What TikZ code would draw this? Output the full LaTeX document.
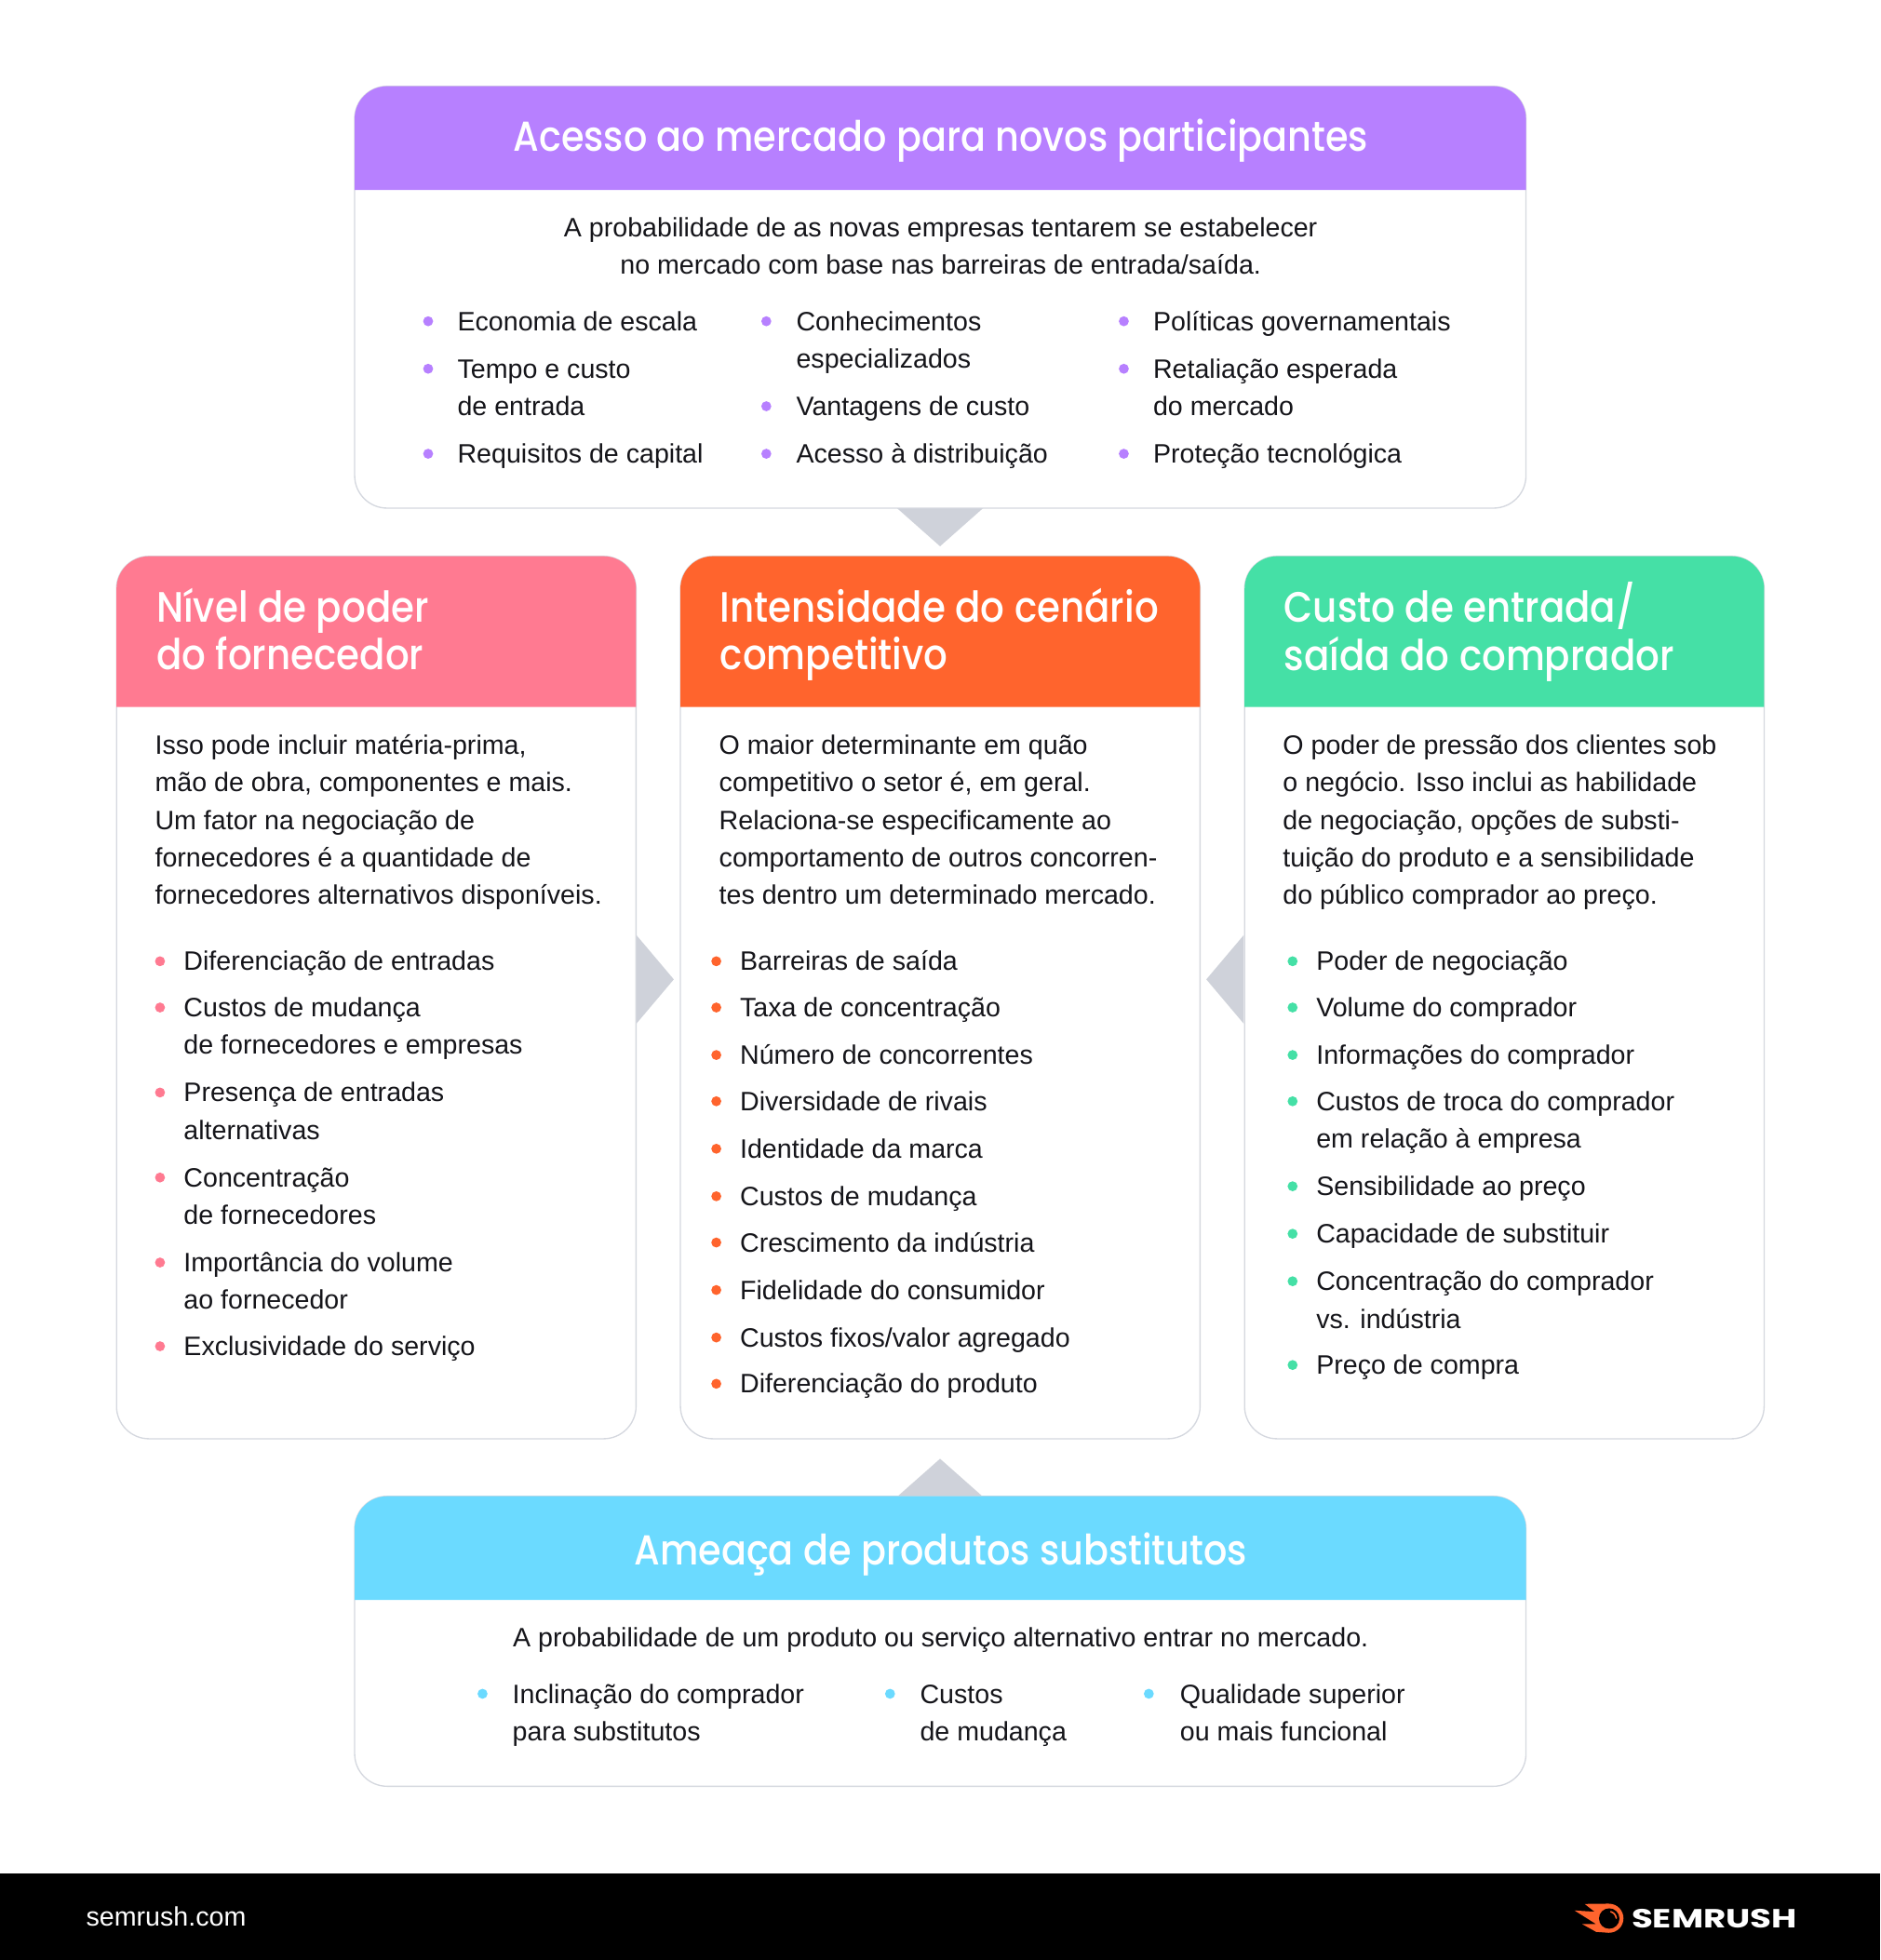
\documentclass[tikz,border=0pt]{standalone}
\usepackage{fontspec}
\setmainfont{Liberation Sans}
\newfontfamily\headfont[FakeStretch=0.884]{Poppins Medium}
\newfontfamily\logofont[FakeStretch=1.32]{Poppins}
\definecolor{cpurple}{HTML}{B780FF}
\definecolor{cpink}{HTML}{FF7A91}
\definecolor{corange}{HTML}{FF642D}
\definecolor{cgreen}{HTML}{45E0A6}
\definecolor{cblue}{HTML}{6BDAFF}
\definecolor{cline}{HTML}{D5D8DF}
\definecolor{ctri}{HTML}{CFD2DA}
\definecolor{cink}{HTML}{15151A}
\newcommand\lns[1]{\begin{tabular}[t]{@{}l@{}}#1\end{tabular}}
\newcommand\clns[1]{\begin{tabular}[t]{@{}c@{}}#1\end{tabular}}
\tikzset{
  x=1pt,y=-1pt,
  body/.style={anchor=base west,inner sep=0pt,outer sep=0pt,text=cink,font=\fontsize{21.3}{30}\selectfont},
  bodyc/.style={body,anchor=base},
  headc/.style={anchor=base,inner sep=0pt,text=white,font=\headfont\fontsize{33.5}{38}\selectfont},
  headl/.style={anchor=base west,inner sep=0pt,text=white,font=\headfont\fontsize{34}{38}\selectfont},
  cardline/.style={draw=cline,line width=1pt,fill=white},
  tri/.style={fill=ctri,draw=none},
  dot/.style={circle,inner sep=0pt,minimum size=8pt,fill=#1,draw=none},
}
% \card{name}{x0}{y0}{x1}{y1}{ymid}{colour}
\newcommand\card[7]{%
  \node[inner sep=0pt,minimum width=0pt] (#1) at ({(#2+#4)/2},{(#3+#5)/2}) {};
  \draw[cardline,rounded corners=26pt] (#2,#3) rectangle (#4,#5);
  \fill[#7] (#2,#6) -- (#2,#3+26) arc[start angle=180,end angle=90,radius=26pt] -- (#4-26,#3) arc[start angle=90,end angle=0,radius=26pt] -- (#4,#6) -- cycle;
}
% \itm{x of dot}{x of text}{y of first line}{colour}{text}
\newcounter{itmc}
\newcommand\itm[5]{%
  \stepcounter{itmc}%
  \node[dot=#4] (d\theitmc) at (#1,#3) {};
  \node[body] (i\theitmc) at (#2,#3+7.5) {\lns{#5}};
}
\begin{document}
\begin{tikzpicture}
\useasboundingbox (0,0) rectangle (1504,1568);
\fill[white] (0,0) rectangle (1504,1568);
% triangles
\fill[tri] (717,406) -- (787,406) -- (752,437) -- cycle;
\fill[tri] (509,748) -- (509,819) -- (539,783.5) -- cycle;
\fill[tri] (995,748) -- (995,819) -- (965,783.5) -- cycle;
\fill[tri] (717,1198) -- (787,1198) -- (752,1167) -- cycle;
% cards
\card{ctop}{283.7}{69}{1220.7}{406.5}{152}{cpurple}
\card{cleft}{93.2}{445}{508.8}{1151}{565.5}{cpink}
\card{cmid}{544.3}{445}{960}{1151}{565.5}{corange}
\card{cright}{995.6}{445}{1411.2}{1151}{565.5}{cgreen}
\card{cbot}{283.7}{1197}{1220.7}{1429}{1280}{cblue}
% top
\node[headc] (h1) at (752.5,121) {Acesso ao mercado para novos participantes};
\node[bodyc] (p1) at (752.5,189.5) {\clns{A probabilidade de as novas empresas tentarem se estabelecer\\no mercado com base nas barreiras de entrada/saída.}};
\itm{342.5}{366}{257}{cpurple}{Economia de escala}
\itm{342.5}{366}{295}{cpurple}{Tempo e custo\\de entrada}
\itm{342.5}{366}{363}{cpurple}{Requisitos de capital}
\itm{613}{637}{257}{cpurple}{Conhecimentos\\especializados}
\itm{613}{637}{325}{cpurple}{Vantagens de custo}
\itm{613}{637}{363}{cpurple}{Acesso à distribuição}
\itm{899}{922.5}{257}{cpurple}{Políticas governamentais}
\itm{899}{922.5}{295}{cpurple}{Retaliação esperada\\do mercado}
\itm{899}{922.5}{363}{cpurple}{Proteção tecnológica}
% left
\node[headl] (h2) at (125,498) {\lns{Nível de poder\\do fornecedor}};
\node[body] (p2) at (124,603.5) {\lns{Isso pode incluir matéria-prima,\\mão de obra, componentes e mais.\\Um fator na negociação de\\fornecedores é a quantidade de\\fornecedores alternativos disponíveis.}};
\itm{128}{147}{769}{cpink}{Diferenciação de entradas}
\itm{128}{147}{806}{cpink}{Custos de mudança\\de fornecedores e empresas}
\itm{128}{147}{874}{cpink}{Presença de entradas\\alternativas}
\itm{128}{147}{942}{cpink}{Concentração\\de fornecedores}
\itm{128}{147}{1010}{cpink}{Importância do volume\\ao fornecedor}
\itm{128}{147}{1077}{cpink}{Exclusividade do serviço}
% middle
\node[headl] (h3) at (576,498) {\lns{Intensidade do cenário\\competitivo}};
\node[body] (p3) at (575.3,603.5) {\lns{O maior determinante em quão\\competitivo o setor é, em geral.\\Relaciona-se especificamente ao\\comportamento de outros concorren-\\tes dentro um determinado mercado.}};
\itm{573}{592}{769}{corange}{Barreiras de saída}
\itm{573}{592}{806}{corange}{Taxa de concentração}
\itm{573}{592}{844}{corange}{Número de concorrentes}
\itm{573}{592}{881}{corange}{Diversidade de rivais}
\itm{573}{592}{919}{corange}{Identidade da marca}
\itm{573}{592}{957}{corange}{Custos de mudança}
\itm{573}{592}{994}{corange}{Crescimento da indústria}
\itm{573}{592}{1032}{corange}{Fidelidade do consumidor}
\itm{573}{592}{1070}{corange}{Custos fixos/valor agregado}
\itm{573}{592}{1107}{corange}{Diferenciação do produto}
% right
\node[headl] (h4) at (1027,498) {\lns{Custo de entrada/\\saída do comprador}};
\node[body] (p4) at (1026.3,603.5) {\lns{O poder de pressão dos clientes sob\\o negócio. Isso inclui as habilidade\\de negociação, opções de substi-\\tuição do produto e a sensibilidade\\do público comprador ao preço.}};
\itm{1034}{1053}{769}{cgreen}{Poder de negociação}
\itm{1034}{1053}{806}{cgreen}{Volume do comprador}
\itm{1034}{1053}{844}{cgreen}{Informações do comprador}
\itm{1034}{1053}{881}{cgreen}{Custos de troca do comprador\\em relação à empresa}
\itm{1034}{1053}{949}{cgreen}{Sensibilidade ao preço}
\itm{1034}{1053}{987}{cgreen}{Capacidade de substituir}
\itm{1034}{1053}{1025}{cgreen}{Concentração do comprador\\vs. indústria}
\itm{1034}{1053}{1092}{cgreen}{Preço de compra}
% bottom
\node[headc] (h5) at (752.5,1252) {Ameaça de produtos substitutos};
\node[bodyc] (p5) at (752.5,1317.5) {A probabilidade de um produto ou serviço alternativo entrar no mercado.};
\itm{386}{410}{1355}{cblue}{Inclinação do comprador\\para substitutos}
\itm{712}{736}{1355}{cblue}{Custos\\de mudança}
\itm{919}{944}{1355}{cblue}{Qualidade superior\\ou mais funcional}
% footer
\fill[black] (0,1499) rectangle (1504,1568);
\node[body,text=white] (f1) at (69,1541) {semrush.com};
\node[anchor=base west,inner sep=0pt,text=white,font=\logofont\bfseries\fontsize{21}{21}\selectfont] (f2) at (1305,1542) {SEMRUSH};
\begin{scope}[shift={(1191.3,1474.3)},x=0.248pt,y=-0.248pt]
\fill[corange] (275,218) -- (340,222) -- (308,197) -- (385,196) .. controls (415,196) and (433,220) .. (433,243) .. controls (433,270) and (412,290) .. (385,290) -- (345,287) -- (300,262) -- (345,262) -- cycle;
\fill[black] (387,244) circle[radius=33];
\draw[corange,line width=1.2pt,line cap=round] (392,222) .. controls (402,225) and (408,232) .. (410,243);
\end{scope}
\end{tikzpicture}
\end{document}
